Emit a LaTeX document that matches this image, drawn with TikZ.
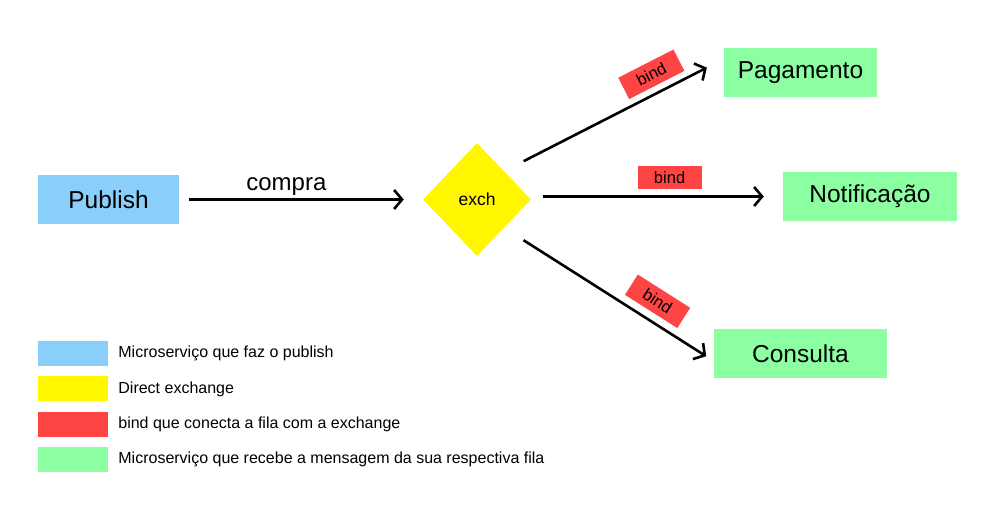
\documentclass[tikz,border=0pt]{standalone}
\usepackage{fontspec}
\setmainfont{Liberation Sans}
\usepackage{tikz}
\usetikzlibrary{shapes.geometric, arrows.meta, positioning}

\definecolor{pubblue}{RGB}{138,206,250}
\definecolor{exyellow}{RGB}{255,246,0}
\definecolor{bindred}{RGB}{255,68,68}
\definecolor{svcgreen}{RGB}{140,255,162}

\begin{document}
\begin{tikzpicture}[
    x=1pt, y=-1pt,
    svc/.style={rectangle, inner sep=0pt, minimum height=49pt, font=\fontsize{24.5}{28}\selectfont},
    exchnode/.style={diamond, fill=exyellow, inner sep=0pt, minimum width=108pt, minimum height=113pt, font=\fontsize{17.5}{20}\selectfont},
    bindlbl/.style={rectangle, fill=bindred, inner sep=0pt, minimum width=62pt, minimum height=24pt, font=\fontsize{16.5}{19}\selectfont},
    swatch/.style={rectangle, inner sep=0pt, minimum width=70pt, minimum height=25pt},
    legtxt/.style={anchor=west, inner sep=0pt, font=\fontsize{16}{19}\selectfont},
    flow/.style={->, line width=2.6pt},
    >={Straight Barb[length=8pt,width=19pt]}
]
    \useasboundingbox (0,0) rectangle (988,513);

    % publisher and exchange
    \node[svc, fill=pubblue, minimum width=141pt] (pub) at (108.5,199.5) {Publish};
    \node[exchnode] (exch) at (477,199.5) {exch};

    % queues
    \node[svc, fill=svcgreen, minimum width=153pt] (pag) at (800.5,72.5) {Pagamento};
    \node[svc, fill=svcgreen, minimum width=174pt] (notif) at (870,196.5) {Notificação};
    \node[svc, fill=svcgreen, minimum width=173pt] (cons) at (800.5,353.5) {Consulta};

    % edges
    \draw[flow, shorten <=10pt, shorten >=19pt] (pub) -- (exch)
        node[pos=0.44, above=3pt, inner sep=0pt, font=\fontsize{24}{28}\selectfont] {compra};
    \draw[flow, shorten <=22pt, shorten >=19pt] (exch.north east) -- (pag.170)
        node[bindlbl, pos=0.71, sloped, above=6pt] {bind};
    \draw[flow, shorten <=12pt, shorten >=19pt] (exch.east |- notif.west) -- (notif.west)
        node[bindlbl, pos=0.55, above=6pt, minimum width=64pt, minimum height=23pt] {bind};
    \draw[flow, shorten <=23pt, shorten >=9pt] (exch.south east) -- (cons.185)
        node[bindlbl, pos=0.68, sloped, above=7pt] {bind};

    % legend
    \node[swatch, fill=pubblue] (legpub) at (73,353.5) {};
    \node[swatch, fill=exyellow, below=10pt of legpub] (legexch) {};
    \node[swatch, fill=bindred, below=10pt of legexch] (legbind) {};
    \node[swatch, fill=svcgreen, below=10pt of legbind] (legsvc) {};
    \node[legtxt, right=10pt of legpub] (legpubtxt) {Microserviço que faz o publish};
    \node[legtxt, right=10pt of legexch] (legexchtxt) {Direct exchange};
    \node[legtxt, right=10pt of legbind] (legbindtxt) {bind que conecta a fila com a exchange};
    \node[legtxt, right=10pt of legsvc] (legsvctxt) {Microserviço que recebe a mensagem da sua respectiva fila};
\end{tikzpicture}
\end{document}
